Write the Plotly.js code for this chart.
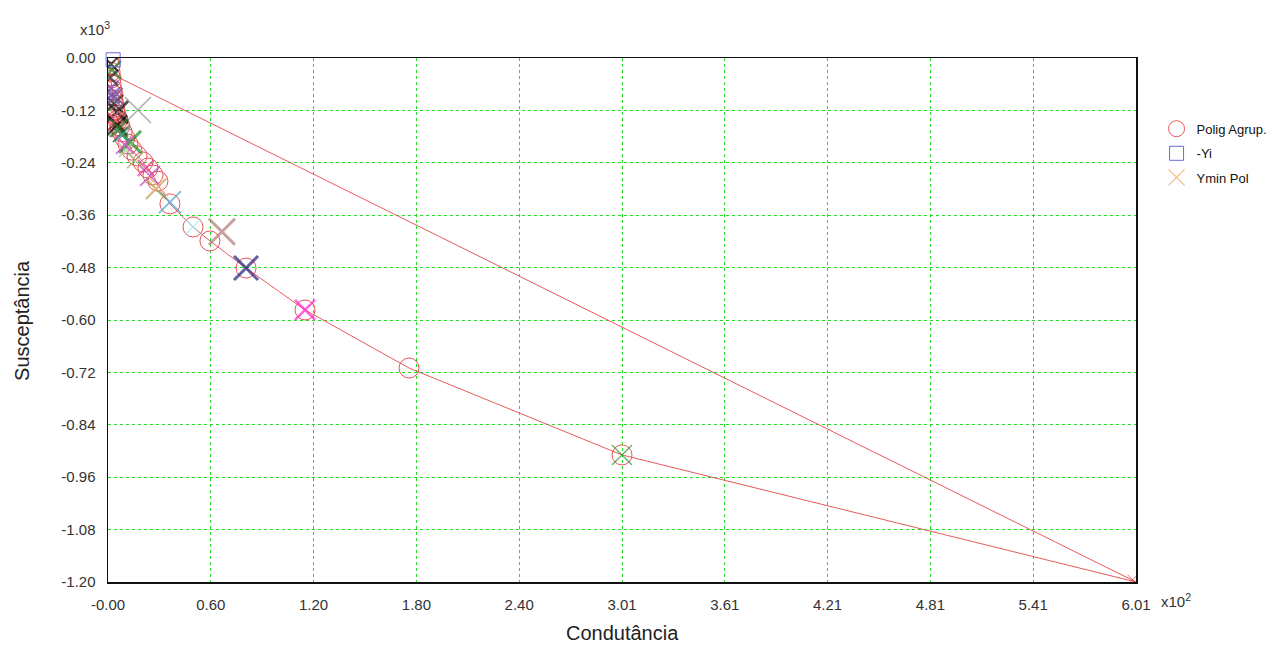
<!DOCTYPE html>
<html>
<head>
<meta charset="utf-8">
<script src="https://cdn.plot.ly/plotly-3.0.1.min.js"></script>
<style>html,body{margin:0;padding:0;background:#fff;}#chart{width:1278px;height:651px;}</style>
</head>
<body>
<div id="chart"></div>
<script>
// ---- data (x in units of 10^2, y in units of 10^3) ----
var poligX = [0.006,0.012,0.012,0.018,0.018,0.023,0.029,0.029,0.035,0.041,0.047,0.058,0.070,0.082,0.099,0.117,0.140,0.170,0.205,0.234,0.263,0.292,0.362,0.497,0.596,0.807,1.152,1.760,3.005];
var poligY = [-0.005,-0.018,-0.032,-0.046,-0.060,-0.073,-0.085,-0.096,-0.108,-0.119,-0.131,-0.142,-0.156,-0.169,-0.183,-0.197,-0.211,-0.224,-0.238,-0.252,-0.268,-0.282,-0.334,-0.387,-0.419,-0.481,-0.577,-0.710,-0.909];

var polyX = [0.012,0.023,0.035,0.047,0.070,0.099,0.140,0.205,0.263,0.292,0.362,0.497,0.596,0.807,1.152,1.760,3.005,6.01,0.012];
var polyY = [-0.035,-0.073,-0.108,-0.131,-0.156,-0.183,-0.211,-0.238,-0.268,-0.290,-0.334,-0.387,-0.419,-0.481,-0.577,-0.710,-0.909,-1.20,-0.035];

var yiX = [0.03];
var yiY = [-0.004];

var yminX = [0.292];
var yminY = [-0.294];

var crossX = [0.175,3.005,1.152,0.807,0.666,0.497,0.362,0.280,0.246,0.222,0.129,0.105,0.053,0.035,0.047,0.018,0.023,0.018,0.064,0.029,5.99,0.076,0.041,0.158,0.099,0.023,0.053,0.064,0.029,0.058,0.082,0.012];
var crossY = [-0.119,-0.909,-0.577,-0.481,-0.398,-0.387,-0.330,-0.300,-0.270,-0.252,-0.192,-0.211,-0.124,-0.105,-0.147,-0.069,-0.027,-0.014,-0.165,-0.137,-1.195,-0.174,-0.087,-0.234,-0.199,-0.085,-0.154,-0.160,-0.092,-0.137,-0.176,-0.045];

var xTickVals = [0,0.601,1.202,1.803,2.404,3.005,3.606,4.207,4.808,5.409,6.01];
var xTickText = ["-0.00","0.60","1.20","1.80","2.40","3.01","3.61","4.21","4.81","5.41","6.01"];
var yTickVals = [0,-0.12,-0.24,-0.36,-0.48,-0.60,-0.72,-0.84,-0.96,-1.08,-1.20];
var yTickText = ["0.00","-0.12","-0.24","-0.36","-0.48","-0.60","-0.72","-0.84","-0.96","-1.08","-1.20"];

// ---- styles for the extra crosses ----
var crossColors = ["#8c8c8c","#2e9a2e","#ff1fd0","#1c1c7a","#b07878","#a8e8f0","#4fa3c4","#a8a050","#c050c0","#e040a0","#1e8a1e","#90d090","#101010","#202020","#801818","#7040c0","#208020","#000000","#a06030","#ff60a0","#e03030","#206020","#606060","#a0a060","#d040d0","#5050d0","#000000","#1a7a1a","#9050b0","#e05050","#50b0b0","#2a2a2a"];
var crossSizes  = [26,20,20,24,26,16,22,20,20,16,22,14,22,18,18,16,18,14,14,14,10,16,16,16,18,16,20,18,16,14,14,16];
var crossWidths = [1.5,1.5,2.5,3,3,1.5,2,2,2,2,3,1.5,3,2.5,2,2,2.5,2,1.5,1.5,1,2,1.5,1.5,2,2,2.5,2.5,2,1.5,1.5,2.5];

var traces = [
  {x: polyX, y: polyY, mode: 'lines', line: {color: '#e85a5a', width: 1}, showlegend: false, hoverinfo: 'skip'},
  {x: poligX, y: poligY, mode: 'markers', name: 'Polig Agrup.', legend: 'legend',
   marker: {symbol: 'circle-open', size: 20, color: '#e8555a', line: {width: 1}}},
  {x: crossX, y: crossY, mode: 'markers', showlegend: false,
   marker: {symbol: 'x-thin-open', size: crossSizes, color: crossColors, line: {width: crossWidths}}},
  {x: yiX, y: yiY, mode: 'markers', name: '-Yi', legend: 'legend2', cliponaxis: false,
   marker: {symbol: 'square-open', size: 14, color: '#6a6ae0', line: {width: 1}}},
  {x: yminX, y: yminY, mode: 'markers', name: 'Ymin Pol', legend: 'legend3',
   marker: {symbol: 'x-thin-open', size: 20, color: '#f2b880', line: {width: 1.2}}}
];

var legFont = {family: 'Liberation Sans, Arial, sans-serif', size: 13, color: '#111'};
var gridGreen = '#22dd22';
var layout = {
  width: 1278, height: 651,
  margin: {l: 108, r: 142, t: 58, b: 69, autoexpand: false},
  paper_bgcolor: '#ffffff', plot_bgcolor: '#ffffff',
  font: {family: 'Liberation Sans, Arial, sans-serif', size: 14, color: '#333'},
  xaxis: {range: [0, 6.01], tickvals: xTickVals, ticktext: xTickText, automargin: false,
    showgrid: true, gridcolor: gridGreen, griddash: 'dot', gridwidth: 1,
    showline: true, mirror: true, linecolor: '#111', linewidth: 1.5, zeroline: false,
    ticks: 'outside', ticklen: 8, tickcolor: 'rgba(0,0,0,0)', tickfont: {size: 15, color: '#333'}},
  yaxis: {range: [-1.2, 0], tickvals: yTickVals, ticktext: yTickText, automargin: false,
    showgrid: true, gridcolor: gridGreen, griddash: 'dot', gridwidth: 1,
    showline: true, mirror: true, linecolor: '#111', linewidth: 1.5, zeroline: false,
    ticks: 'outside', ticklen: 8, tickcolor: 'rgba(0,0,0,0)', tickfont: {size: 15, color: '#333'}},
  legend:  {x: 1.020, y: 0.865, xanchor: 'left', yanchor: 'middle', font: legFont, bgcolor: 'rgba(0,0,0,0)'},
  legend2: {x: 1.020, y: 0.818, xanchor: 'left', yanchor: 'middle', font: legFont, bgcolor: 'rgba(0,0,0,0)'},
  legend3: {x: 1.020, y: 0.772, xanchor: 'left', yanchor: 'middle', font: legFont, bgcolor: 'rgba(0,0,0,0)'},
  annotations: [
    {text: 'Susceptância', xref: 'paper', yref: 'paper', x: -0.0837, y: 0.5, xanchor: 'center', textangle: -90, showarrow: false,
     font: {size: 20, color: '#222'}},
    {text: 'Condutância', xref: 'paper', yref: 'paper', x: 0.5, y: -0.099, showarrow: false,
     font: {size: 20, color: '#222'}, yshift: -12},
    {text: 'x10<sup>3</sup>', xref: 'paper', yref: 'paper', x: -0.029, y: 1.078, showarrow: false,
     font: {size: 15, color: '#333'}},
    {text: 'x10<sup>2</sup>', xref: 'paper', yref: 'paper', x: 1.055, y: -0.057, showarrow: false,
     font: {size: 15, color: '#333'}}
  ]
};

Plotly.newPlot('chart', traces, layout, {displayModeBar: false, staticPlot: true});
</script>
</body>
</html>
